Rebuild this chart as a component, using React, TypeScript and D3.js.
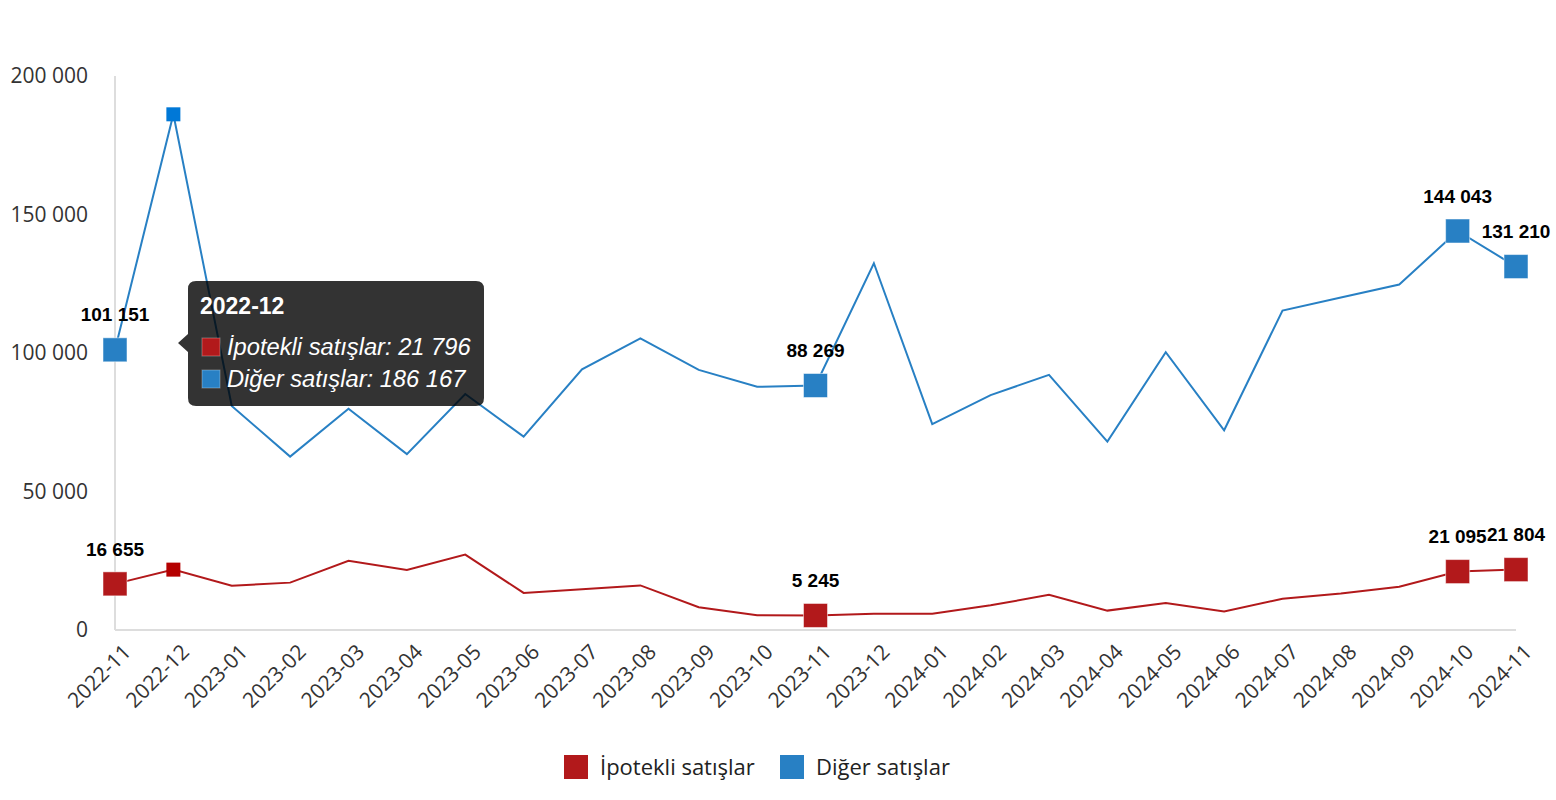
import React from "react";
import * as d3 from "d3";

const months = [
  "2022-11","2022-12","2023-01","2023-02","2023-03","2023-04","2023-05","2023-06","2023-07","2023-08","2023-09","2023-10","2023-11","2023-12",
  "2024-01","2024-02","2024-03","2024-04","2024-05","2024-06","2024-07","2024-08","2024-09","2024-10","2024-11",
];
const ipotekli = [16655,21796,16000,17100,25000,21700,27200,13400,14700,16100,8200,5300,5245,5900,5900,8900,12700,7000,9700,6700,11300,13200,15600,21095,21804];
const diger = [101151,186167,80900,62600,79900,63500,85200,69800,94100,105300,93900,87800,88269,132400,74300,84800,92100,68000,100300,72100,115300,120000,124700,144043,131210];
const yTicks = [0,50000,100000,150000,200000];
const seriesNames = ["İpotekli satışlar","Diğer satışlar"];
const colors = ["#b2191b","#2880c4"];
const hoverColors = ["#b50000","#0078d7"];
const labeledIdx = [0,12,23,24];
const hoverIdx = 1;

const fmt = (v: number) => d3.format(",")(v).replace(/,/g, " ");

export default function App() {
  const W = 1556, H = 800;
  const left = 115, right = 1516, top = 76, bottom = 630;
  const x = d3.scalePoint<string>().domain(months).range([left, right]);
  const y = d3.scaleLinear().domain([0, 200000]).range([bottom, top]);
  const line = d3.line<number>().x((_, i) => x(months[i])!).y((d) => y(d));
  const series = [ipotekli, diger];

  return (
    <svg width={W} height={H} style={{ position: "absolute", left: 0, top: 0, background: "#fff" }}>
      <line x1={left} x2={left} y1={top} y2={bottom} stroke="#dddddd" strokeWidth={2} />
      <line x1={left} x2={right} y1={bottom} y2={bottom} stroke="#dddddd" strokeWidth={2} />
      {yTicks.map((t) => (
        <text key={t} x={88} y={y(t)} dy="0.35em" textAnchor="end" fontFamily="'Open Sans', 'Noto Sans', sans-serif" fontSize={21} fill="#333">
          {fmt(t)}
        </text>
      ))}
      {months.map((m) => (
        <text key={m} transform={`translate(${x(m)! + 12},${bottom + 18}) rotate(-45)`} textAnchor="end" dy="0.35em"
          fontFamily="'Open Sans', 'Noto Sans', sans-serif" fontSize={21} fill="#333">
          {m}
        </text>
      ))}
      {series.map((s, si) => (
        <path key={si} d={line(s) || ""} fill="none" stroke={colors[si]} strokeWidth={2} />
      ))}
      {series.map((s, si) =>
        labeledIdx.map((i) => (
          <rect key={`${si}-${i}`} x={x(months[i])! - 12} y={y(s[i]) - 12} width={24} height={24} fill={colors[si]} stroke="rgba(255,255,255,0.5)" strokeWidth={1} />
        ))
      )}
      {series.map((s, si) => (
        <rect key={`h${si}`} x={x(months[hoverIdx])! - 7} y={y(s[hoverIdx]) - 7} width={14} height={14} fill={hoverColors[si]} />
      ))}
      {series.map((s, si) =>
        labeledIdx.map((i) => (
          <text key={`l${si}-${i}`} x={x(months[i])!} y={y(s[i]) - 35} dy="0.35em" textAnchor="middle"
            fontFamily="'Liberation Sans', Arial, sans-serif" fontWeight="bold" fontSize={19} fill="#000">
            {fmt(s[i])}
          </text>
        ))
      )}
      {/* tooltip */}
      <g>
        <path d="M 196 281 H 476 Q 484 281 484 289 V 398 Q 484 406 476 406 H 196 Q 188 406 188 398 V 352 L 178 343 L 188 334 V 289 Q 188 281 196 281 Z" fill="#000" fillOpacity={0.8} />
        <text x={200} y={306} dy="0.35em" fontFamily="'Liberation Sans', Arial, sans-serif" fontWeight="bold" fontSize={23} fill="#fff">
          {months[hoverIdx]}
        </text>
        {series.map((s, si) => (
          <g key={`tt${si}`}>
            <rect x={202} y={338 + si * 32} width={18} height={18} fill={colors[si]} stroke="rgba(255,255,255,0.3)" />
            <text x={227} y={347 + si * 32} dy="0.35em" fontFamily="'Liberation Sans', Arial, sans-serif" fontStyle="italic" fontSize={23.7} fill="#fff">
              {`${seriesNames[si]}: ${fmt(s[hoverIdx])}`}
            </text>
          </g>
        ))}
      </g>
      {/* legend */}
      {seriesNames.map((n, si) => {
        const lx = si === 0 ? 564 : 780;
        return (
          <g key={n}>
            <rect x={lx} y={755} width={24} height={24} fill={colors[si]} />
            <text x={lx + 36} y={767} dy="0.35em" fontFamily="'Open Sans', 'Noto Sans', sans-serif" fontSize={22} fill="#222">{n}</text>
          </g>
        );
      })}
    </svg>
  );
}
